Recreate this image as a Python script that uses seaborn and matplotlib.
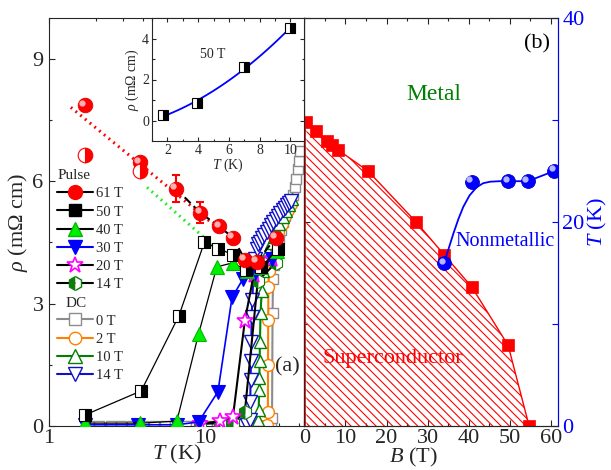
import numpy as np
import matplotlib
matplotlib.use("Agg")
import matplotlib.pyplot as plt
import seaborn as sns
from matplotlib.lines import Line2D
from matplotlib.ticker import FixedLocator, MultipleLocator, FuncFormatter, NullFormatter
from matplotlib.transforms import offset_copy

# ---------------- panel (a): pulsed-field data ----------------
P61_T = [1.7, 3.83, 6.5, 9.3, 12.3, 15.1, 18.0, 21.5, 28.5]
P61_RHO = [7.86, 6.46, 5.82, 5.23, 4.89, 4.62, 4.08, 4.03, 4.62]
P61_ERR = [0, 0, 0.32, 0.25, 0, 0, 0, 0, 0]
P61B_T = [1.7, 3.83]
P61B_RHO = [6.63, 6.24]
P50_T = [1.7, 3.9, 6.8, 9.9, 12.1, 15.1, 18.3, 23.0, 29.3]
P50_RHO = [0.27, 0.86, 2.7, 4.5, 4.35, 4.2, 3.83, 3.9, 4.35]
P40_T = [1.7, 3.85, 6.6, 9.1, 11.9, 15.1, 18.5, 23.0, 28.9]
P40_RHO = [0.07, 0.07, 0.12, 2.26, 3.9, 4.0, 3.8, 3.9, 4.28]
P30_T = [1.7, 3.7, 6.6, 9.1, 12.1, 14.9, 17.5, 21.0, 27.0]
P30_RHO = [0.03, 0.03, 0.03, 0.1, 0.84, 3.15, 3.6, 3.75, 4.1]
P20_T = [9.3, 12.5, 15.1, 18.0, 20.5, 27.0]
P20_RHO = [0.05, 0.12, 0.22, 2.58, 3.7, 4.1]
P14_T = [9.3, 12.5, 15.1, 18.0, 21.8, 28.5]
P14_RHO = [0.05, 0.07, 0.07, 0.34, 3.56, 4.0]

# dotted guide lines (linear in log T)
FIT61_T = [1.38, 14.9]
FIT61_RHO = [7.81, 4.57]
FIT50_T = [4.25, 12.1]
FIT50_RHO = [5.85, 4.32]

# ---------------- panel (a): DC data ----------------
DC0_T = [1.8, 2.1, 2.5, 2.9, 3.4, 4.0, 4.7, 5.5, 6.4, 7.5, 8.8, 10.3, 12.0, 14.0, 16.4, 19.1, 22.3, 25.0,
         26.6, 26.9, 27.1, 27.3, 27.6, 28.2, 29.0, 29.8, 30.7, 31.6, 32.6, 33.6, 34.6, 35.6, 36.6, 37.6,
         38.5, 39.3, 40.0, 40.7]
DC0_RHO = [0, 0, 0, 0, 0, 0, 0, 0, 0, 0, 0, 0, 0, 0, 0, 0, 0, 0,
           0.05, 0.2, 2.78, 3.6, 3.95, 4.2, 4.4, 4.6, 4.8, 5.0, 5.15, 5.3, 5.4, 5.5, 5.65, 5.85,
           6.05, 6.3, 6.5, 6.73]
DC2_T = [20.0, 22.0, 24.0, 25.0, 25.3, 25.35, 25.4, 25.5, 25.7, 26.2, 27.0, 28.0, 29.5, 31.0, 32.5, 34.0, 35.5]
DC2_RHO = [0.0, 0.0, 0.0, 0.02, 0.35, 1.5, 2.6, 3.4, 3.8, 4.05, 4.3, 4.5, 4.75, 4.95, 5.15, 5.3, 5.45]
DC10_T = [14.0, 16.0, 18.0, 20.0, 21.5, 22.0, 22.1, 22.2, 22.3, 22.4, 22.5, 22.7, 23.1, 23.7, 24.5, 25.4,
          26.4, 27.5, 28.7, 30.0, 31.4, 32.9, 34.4, 36.0]
DC10_RHO = [0, 0, 0, 0, 0.05, 0.15, 0.39, 0.88, 1.18, 1.6, 2.06, 2.78, 3.3, 3.8, 4.1, 4.3,
            4.48, 4.64, 4.8, 4.96, 5.12, 5.28, 5.42, 5.56]
DC14_T = [14.0, 16.0, 17.5, 18.7, 19.3, 19.5, 19.6, 19.7, 19.8, 19.9, 20.1, 20.4, 20.9, 21.4, 22.0, 22.6,
          23.3, 24.0, 24.8, 25.6, 26.5, 27.4, 28.4, 29.4, 30.4, 31.5, 32.6, 33.7, 34.8, 35.8]
DC14_RHO = [0, 0, 0, 0.02, 0.15, 0.59, 1.13, 1.6, 2.06, 2.68, 3.1, 3.6, 4.1, 4.35, 4.45, 4.52,
            4.6, 4.68, 4.76, 4.84, 4.92, 5.0, 5.08, 5.15, 5.22, 5.29, 5.35, 5.41, 5.47, 5.52]

# ---------------- inset: 50 T low-temperature data ----------------
IN_T = [1.7, 3.95, 6.95, 10.0]
IN_RHO = [0.25, 0.85, 2.6, 4.5]

# ---------------- panel (b): phase diagram ----------------
HC2_B = [0.5, 2.8, 5.6, 6.8, 8.1, 15.5, 27.2, 34.0, 40.8, 49.6, 54.7]
HC2_T = [29.8, 28.9, 27.9, 27.5, 27.1, 25.0, 20.0, 16.8, 13.6, 7.9, 0.0]
NM_B = [34.0, 40.7, 49.6, 54.4, 60.8]
NM_T = [15.95, 23.95, 24.0, 24.0, 25.0]
NM_GUIDE_B = [34.0, 35.2, 36.3, 37.5, 38.7, 40.2, 41.9, 43.5, 45.2, 47.5, 49.6, 54.4, 60.8]
NM_GUIDE_T = [15.95, 17.5, 18.9, 20.3, 21.5, 22.6, 23.4, 23.8, 23.95, 24.0, 24.0, 24.0, 25.0]

# ---------------- style ----------------
sns.set_theme(style="ticks")
plt.rcParams.update({
    "font.family": ["Liberation Serif", "DejaVu Serif"],
    "mathtext.fontset": "custom",
    "mathtext.rm": "Liberation Serif",
    "mathtext.it": "Liberation Serif:italic",
    "mathtext.bf": "Liberation Serif:bold",
    "axes.linewidth": 0.8,
    "xtick.direction": "in",
    "ytick.direction": "in",
    "hatch.linewidth": 0.8,
})

RED = "#ff0000"
BLUE = "#0000ff"
GREEN = "#00ee00"
DGREEN = "#0a7f0a"
MAG = "#ff00ff"
GREY = "#8c8c8c"
ORANGE = "#ff8000"
DCGREEN = "#008000"
DCBLUE = "#1010c8"

W, H = 611, 470
fig = plt.figure(figsize=(W / 100, H / 100), dpi=100)


def fbox(x0, y0, x1, y1):
    return [x0 / W, 1 - y1 / H, (x1 - x0) / W, (y1 - y0) / H]


axa = fig.add_axes(fbox(49, 18, 304.3, 426))
axb = fig.add_axes(fbox(304.3, 18, 558.3, 426))
axin = fig.add_axes(fbox(152, 18, 304.3, 141))
axin.set_zorder(5)


def sline(ax, x, y, **kw):
    sns.lineplot(x=x, y=y, ax=ax, estimator=None, sort=False, legend=False, **kw)


# ---- DC curves (behind) ----
sline(axa, DC0_T, DC0_RHO, color=GREY, lw=1.5, marker="s", ms=7.5, markerfacecolor="white",
      markeredgecolor=GREY, markeredgewidth=1.0, zorder=2)
sline(axa, DC2_T, DC2_RHO, color=ORANGE, lw=1.5, marker="o", ms=8.5, markerfacecolor="white",
      markeredgecolor=ORANGE, markeredgewidth=1.0, zorder=2.1)
sline(axa, DC10_T, DC10_RHO, color=DCGREEN, lw=1.5, marker="^", ms=9, markerfacecolor="white",
      markeredgecolor=DCGREEN, markeredgewidth=1.0, zorder=2.2)
sline(axa, DC14_T, DC14_RHO, color=DCBLUE, lw=1.5, marker="v", ms=9.5, markerfacecolor="white",
      markeredgecolor=DCBLUE, markeredgewidth=1.0, zorder=2.3)

# ---- dotted guides ----
sline(axa, FIT61_T, FIT61_RHO, color=RED, lw=2.2, linestyle=(0, (0.6, 1.4)), zorder=3)
sline(axa, FIT50_T, FIT50_RHO, color="#22ee22", lw=2.2, linestyle=(0, (0.6, 1.4)), zorder=3)

# ---- pulsed curves ----
sline(axa, P14_T, P14_RHO, color="black", lw=1.5, marker="h", ms=10, fillstyle="left",
      markerfacecolor=DGREEN, markerfacecoloralt="white", markeredgecolor=DGREEN,
      markeredgewidth=0.8, zorder=4)
sline(axa, P20_T, P20_RHO, color="black", lw=1.5, marker="*", ms=12, markerfacecolor="white",
      markeredgecolor=MAG, markeredgewidth=1.2, zorder=4.1)
sline(axa, P30_T, P30_RHO, color=BLUE, lw=1.2, marker="v", ms=10, markerfacecolor=BLUE,
      markeredgecolor=BLUE, markeredgewidth=0.8, zorder=4.2)
sline(axa, P40_T, P40_RHO, color="black", lw=0.9, marker="^", ms=10, markerfacecolor=GREEN,
      markeredgecolor="#00bb00", markeredgewidth=0.8, zorder=4.3)
sline(axa, P50_T, P50_RHO, color="black", lw=0.9, marker="s", ms=8.5, fillstyle="right",
      markerfacecolor="black", markerfacecoloralt="white", markeredgecolor="black",
      markeredgewidth=0.8, zorder=4.4)
sline(axa, P61_T[2:], P61_RHO[2:], color="black", lw=1.5, linestyle=(0, (4, 2)), zorder=4.5)
axa.errorbar(P61_T, P61_RHO, yerr=P61_ERR, fmt="none", ecolor=RED, elinewidth=1.5, capsize=3,
             capthick=1.5, zorder=4.6)
sline(axa, P61_T, P61_RHO, color=RED, linestyle="none", marker="o", ms=10.5,
      markerfacecolor=RED, markeredgecolor="#e00000", markeredgewidth=0.6, zorder=4.7)
axa.plot(P61_T, P61_RHO, linestyle="none", marker="o", ms=3.5, color="#ffb0b0",
         transform=offset_copy(axa.transData, fig=fig, x=-2.5, y=2.5, units="dots"), zorder=4.8)
sline(axa, P61B_T, P61B_RHO, color=RED, linestyle="none", marker="o", ms=10.5, fillstyle="right",
      markerfacecolor=RED, markerfacecoloralt="white", markeredgecolor=RED,
      markeredgewidth=0.8, zorder=4.7)

axa.set_xscale("log")
axa.set_xlim(1, 43.3)
axa.set_ylim(0, 10)
axa.xaxis.set_major_locator(FixedLocator([1, 10]))
axa.xaxis.set_minor_locator(FixedLocator([2, 3, 4, 5, 6, 7, 8, 9, 20, 30, 40]))
axa.xaxis.set_major_formatter(FuncFormatter(lambda v, p: f"{v:g}"))
axa.xaxis.set_minor_formatter(NullFormatter())
axa.yaxis.set_major_locator(MultipleLocator(3))
axa.yaxis.set_minor_locator(MultipleLocator(1.5))
axa.tick_params(which="both", top=True, right=False, direction="in", labelsize=16, width=0.8)
axa.tick_params(which="major", length=4)
axa.tick_params(axis="x", which="major", pad=2)
axa.tick_params(axis="y", which="major", pad=4)
axa.tick_params(which="minor", length=2.5)
axa.set_xlabel(r"$T$ (K)", fontsize=16)
axa.xaxis.set_label_coords(0.5, -0.042)
axa.set_ylabel(r"$\rho$ (m$\Omega$ cm)", fontsize=16, labelpad=2)
axa.text(33.5, 1.45, "(a)", fontsize=16, ha="center", va="center", zorder=6)

# legend
def H(**kw):
    return Line2D([], [], **kw)

blank = H(linestyle="none")
handles = [
    blank,
    H(color="black", lw=1.5, marker="o", ms=10, markerfacecolor=RED, markeredgecolor=RED),
    H(color="black", lw=1.5, marker="s", ms=9, markerfacecolor="black", markeredgecolor="black"),
    H(color="black", lw=1.5, marker="^", ms=10, markerfacecolor=GREEN, markeredgecolor="#00bb00"),
    H(color=BLUE, lw=1.5, marker="v", ms=10, markerfacecolor=BLUE, markeredgecolor=BLUE),
    H(color="black", lw=1.5, marker="*", ms=12, markerfacecolor="white", markeredgecolor=MAG,
      markeredgewidth=1.2),
    H(color="black", lw=1.5, marker="h", ms=10, fillstyle="left", markerfacecolor=DGREEN,
      markerfacecoloralt="white", markeredgecolor=DGREEN),
    blank,
    H(color=GREY, lw=1.5, marker="s", ms=8, markerfacecolor="white", markeredgecolor=GREY),
    H(color=ORANGE, lw=1.5, marker="o", ms=9, markerfacecolor="white", markeredgecolor=ORANGE),
    H(color=DCGREEN, lw=1.5, marker="^", ms=9.5, markerfacecolor="white", markeredgecolor=DCGREEN),
    H(color=DCBLUE, lw=1.5, marker="v", ms=10, markerfacecolor="white", markeredgecolor=DCBLUE),
]
labels = [" ", "61 T", "50 T", "40 T", "30 T", "20 T", "14 T", " ", "0 T", "2 T", "10 T", "14 T"]
leg = axa.legend(handles, labels, loc="upper left", bbox_to_anchor=(0.031, 0.630), frameon=False,
                 fontsize=10.5, handlelength=2.5, handletextpad=0.2, labelspacing=0.34,
                 borderpad=0, borderaxespad=0)
leg.set_zorder(7)
axa.text(0.035, 0.613, "Pulse", transform=axa.transAxes, fontsize=11, ha="left", va="center")
axa.text(0.063, 0.301, "DC", transform=axa.transAxes, fontsize=11, ha="left", va="center")

# ---- inset ----
coef = np.polyfit(IN_T, IN_RHO, 2)
tt = np.linspace(IN_T[0], IN_T[-1], 100)
sline(axin, tt, np.polyval(coef, tt), color=BLUE, lw=1.3, zorder=2)
sline(axin, IN_T, IN_RHO, color="black", linestyle="none", marker="s", ms=7, fillstyle="right",
      markerfacecolor="black", markerfacecoloralt="white", markeredgecolor="black",
      markeredgewidth=0.8, zorder=3)
axin.set_xlim(1, 10.9)
axin.set_ylim(-1, 5)
axin.xaxis.set_major_locator(FixedLocator([2, 4, 6, 8, 10]))
axin.xaxis.set_minor_locator(FixedLocator([1, 3, 5, 7, 9]))
axin.yaxis.set_major_locator(FixedLocator([0, 2, 4]))
axin.yaxis.set_minor_locator(FixedLocator([1, 3]))
axin.tick_params(which="both", top=True, right=True, direction="in", labelsize=10, width=0.8, pad=2)
axin.tick_params(which="major", length=3)
axin.tick_params(which="minor", length=1.8)
axin.set_xlabel(r"$T$ (K)", fontsize=10, labelpad=0)
axin.set_ylabel(r"$\rho$ (m$\Omega$ cm)", fontsize=10, labelpad=1)
axin.text(4.96, 3.2, "50 T", fontsize=10, ha="center", va="center")
axin.set_facecolor("white")

# ---- panel (b) ----
axb.fill_between(HC2_B, HC2_T, 0, facecolor="none", edgecolor=RED, hatch="\\\\\\\\",
                 linewidth=0, zorder=1)
axb.fill_between([0, HC2_B[0]], [HC2_T[0], HC2_T[0]], 0, facecolor="none", edgecolor=RED,
                 hatch="\\\\\\\\", linewidth=0, zorder=1)
sline(axb, HC2_B, HC2_T, color=RED, lw=1.0, marker="s", ms=8, markerfacecolor=RED,
      markeredgecolor=RED, markeredgewidth=0.5, zorder=3)
axb.plot([0.05, 0.05], [0, HC2_T[0]], color=RED, lw=1.2, zorder=2)
sline(axb, NM_GUIDE_B, NM_GUIDE_T, color=BLUE, lw=1.3, zorder=3.5)
sline(axb, NM_B, NM_T, color=BLUE, linestyle="none", marker="o", ms=10, markerfacecolor=BLUE,
      markeredgecolor="#0000d0", markeredgewidth=0.6, zorder=4)
axb.plot(NM_B, NM_T, linestyle="none", marker="o", ms=3.5, color="#b8b8ff",
         transform=offset_copy(axb.transData, fig=fig, x=-2.5, y=2.5, units="dots"), zorder=4.1)

axb.set_xlim(0, 61.8)
axb.set_ylim(0, 40)
axb.xaxis.set_major_locator(MultipleLocator(10))
axb.xaxis.set_minor_locator(MultipleLocator(5))
axb.yaxis.set_major_locator(MultipleLocator(20))
axb.yaxis.set_minor_locator(MultipleLocator(10))
axb.tick_params(which="both", top=True, left=True, right=False, labelleft=False, direction="in",
                labelsize=16, width=0.8)
axb.tick_params(which="major", length=4)
axb.tick_params(axis="x", which="major", pad=2)
axb.tick_params(which="minor", length=2.5)
axb.set_xlabel(r"$B$ (T)", fontsize=16)
axb.xaxis.set_label_coords((413 - 304.3) / 254, -0.05)

axb2 = axb.twinx()
axb2.set_ylim(0, 40)
axb2.yaxis.set_major_locator(MultipleLocator(20))
axb2.yaxis.set_minor_locator(MultipleLocator(10))
axb2.tick_params(which="both", right=True, left=False, direction="in", colors=BLUE, labelsize=16,
                 width=0.8)
axb2.tick_params(which="major", length=4, pad=3)
axb2.tick_params(which="minor", length=4)
axb2.spines["right"].set_color(BLUE)
axb2.set_ylabel(r"$T$ (K)", fontsize=16, color=BLUE, labelpad=1)

axb.text(31.6, 32.5, "Metal", fontsize=17, color="#008000", ha="center", va="center", zorder=6)
axb.text(21.6, 6.6, "Superconductor", fontsize=16, color=RED, ha="center", va="center", zorder=6)
axb.text(48.9, 18.1, "Nonmetallic", fontsize=14.5, color=BLUE, ha="center", va="center", zorder=6)
axb.text(56.6, 37.5, "(b)", fontsize=16, color="black", ha="center", va="center", zorder=6)

fig.savefig("out.png", dpi=100)
